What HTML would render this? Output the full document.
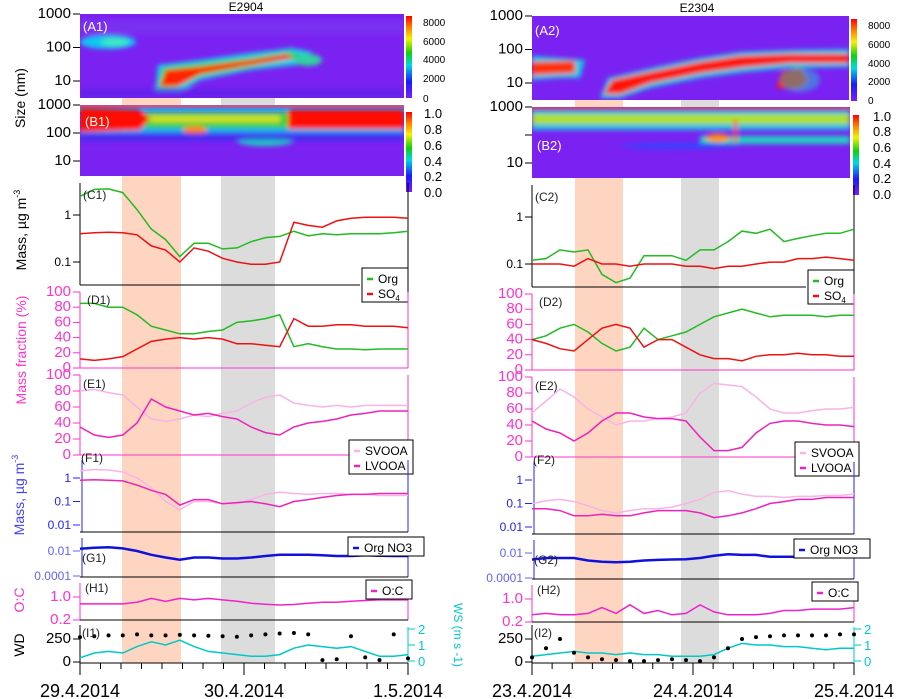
<!DOCTYPE html>
<html><head><meta charset="utf-8"><style>
body{margin:0;background:#fff;width:902px;height:699px;overflow:hidden;font-family:"Liberation Sans",sans-serif}
svg{display:block}
</style></head><body>
<svg id="fig" width="902" height="699" viewBox="0 0 902 699" xmlns="http://www.w3.org/2000/svg" font-family="Liberation Sans, sans-serif">
<defs>
<linearGradient id="cb" x1="0" y1="1" x2="0" y2="0">
<stop offset="0" stop-color="#7a20f5"/><stop offset="0.2" stop-color="#1a1aff"/><stop offset="0.4" stop-color="#00d8e8"/><stop offset="0.55" stop-color="#10d010"/><stop offset="0.72" stop-color="#f8f000"/><stop offset="0.86" stop-color="#ff8000"/><stop offset="1" stop-color="#ff0000"/>
</linearGradient>
<filter id="bl" x="-20%" y="-50%" width="140%" height="200%"><feGaussianBlur stdDeviation="2.5"/></filter>
<clipPath id="cA1"><rect x="80" y="14" width="324" height="84"/></clipPath>
<clipPath id="cB1"><rect x="80" y="105" width="324" height="71"/></clipPath>
<clipPath id="cA2"><rect x="532" y="16" width="317" height="84"/></clipPath>
<clipPath id="cB2"><rect x="532" y="107" width="318" height="71"/></clipPath>
</defs>

<rect x="122" y="98" width="59" height="565" fill="#fdd5c0"/>
<rect x="221" y="98" width="54" height="565" fill="#dcdcdc"/>
<rect x="575" y="100" width="48" height="563" fill="#fdd5c0"/>
<rect x="681" y="100" width="38" height="563" fill="#dcdcdc"/>

<text x="246" y="11" font-size="12" text-anchor="middle">E2904</text>
<text x="697" y="12" font-size="12" text-anchor="middle">E2304</text>

<g>
<rect x="80" y="14" width="324" height="84" fill="#7a22f2"/>
<g clip-path="url(#cA1)" filter="url(#bl)">
<rect x="80" y="20" width="324" height="14" fill="#7a3cf0" opacity="0.5"/>
<ellipse cx="108" cy="42" rx="28" ry="7" fill="#10c8f0"/>
<ellipse cx="115" cy="42" rx="14" ry="4" fill="#40e8c0"/>
<polygon points="155,92 158,65 200,60 250,53 292,48 312,52 305,64 250,70 200,80 180,92" fill="#1ad0e0"/>
<polygon points="158,88 163,68 200,64 250,58 290,52 302,56 250,67 200,76 175,88" fill="#20d020"/>
<polygon points="160,86 166,70 200,67 250,60 287,54 294,58 250,65 200,74 178,86" fill="#ff2000"/>
<ellipse cx="308" cy="60" rx="14" ry="6" fill="#30d0a0"/>
<rect x="80" y="88" width="324" height="10" fill="#5a20e8" opacity="0.6"/>
</g>
<text x="83" y="31" font-size="13" fill="#fff">(A1)</text>
</g>

<g>
<rect x="80" y="105" width="324" height="71" fill="#7a22f2"/>
<g clip-path="url(#cB1)">
<rect x="80" y="105" width="324" height="7" fill="#30a0f0" opacity="0.8"/>
<rect x="80" y="105" width="324" height="3" fill="#ff4060" opacity="0.6"/>
<g filter="url(#bl)">
<rect x="80" y="111" width="324" height="22" fill="#18b0f0"/>
<rect x="145" y="112" width="145" height="16" fill="#40d040"/>
<rect x="150" y="116" width="130" height="6" fill="#d8e020"/>
<polygon points="80,108 140,110 150,118 140,130 80,132" fill="#ff1000"/>
<rect x="288" y="110" width="116" height="19" fill="#ff1000"/>
<ellipse cx="195" cy="130" rx="12" ry="4" fill="#ff8020"/>
<ellipse cx="265" cy="141" rx="28" ry="5" fill="#20d0c0"/>
<rect x="80" y="133" width="324" height="8" fill="#2a30f0" opacity="0.6"/>
</g></g>
<text x="85" y="126" font-size="13" fill="#fff">(B1)</text>
</g>

<g>
<rect x="532" y="16" width="317" height="84" fill="#7a22f2"/>
<g clip-path="url(#cA2)" filter="url(#bl)">
<polygon points="532,56 560,58 585,60 580,78 560,78 532,80" fill="#18c8e0"/>
<polygon points="532,62 575,61 575,73 532,75" fill="#ff3000"/>
<polygon points="600,98 608,78 660,66 700,58 740,52 790,50 849,49 849,67 790,68 745,72 700,78 650,88 620,98" fill="#18c8e0"/>
<polygon points="604,94 612,80 660,70 700,62 740,56 790,54 849,54 849,63 790,63 745,67 700,73 650,83 620,94" fill="#ff1800"/>
<polygon points="776,88 782,72 800,68 808,80 800,88" fill="#ff1000"/>
<ellipse cx="800" cy="80" rx="20" ry="12" fill="#20c8d0" opacity="0.5"/>
</g>
<text x="535" y="35" font-size="13" fill="#fff">(A2)</text>
</g>

<g>
<rect x="532" y="107" width="318" height="71" fill="#7a22f2"/>
<g clip-path="url(#cB2)">
<rect x="532" y="107" width="318" height="4" fill="#ff3050" opacity="0.7"/>
<g filter="url(#bl)">
<rect x="532" y="110" width="318" height="20" fill="#20c0e0"/>
<rect x="532" y="114" width="318" height="10" fill="#b0e020"/>
<rect x="700" y="136" width="150" height="8" fill="#20d0c0"/>
<ellipse cx="718" cy="138" rx="12" ry="4" fill="#ff9000"/>
<rect x="734" y="120" width="3" height="22" fill="#ff2000"/>
<ellipse cx="680" cy="146" rx="60" ry="3" fill="#2050ff" opacity="0.7"/>
</g></g>
<text x="537" y="150" font-size="13" fill="#fff">(B2)</text>
</g>

<g>
<rect x="406" y="16" width="6" height="82" fill="url(#cb)"/>
<g font-size="10" fill="#000"><text x="423" y="26">8000</text><text x="423" y="45">6000</text><text x="423" y="63">4000</text><text x="423" y="82">2000</text><text x="423" y="102">0</text></g>
</g>
<g>
<rect x="406" y="112" width="6" height="80" fill="url(#cb)"/>
<g font-size="13"><text x="424" y="118">1.0</text><text x="424" y="134">0.8</text><text x="424" y="150">0.6</text><text x="424" y="166">0.4</text><text x="424" y="181">0.2</text><text x="424" y="197">0.0</text></g>
</g>
<g>
<rect x="851" y="19" width="6" height="82" fill="url(#cb)"/>
<g font-size="10"><text x="868" y="29">8000</text><text x="868" y="48">6000</text><text x="868" y="67">4000</text><text x="868" y="85">2000</text><text x="868" y="104">0</text></g>
</g>
<g>
<rect x="853" y="115" width="6" height="80" fill="url(#cb)"/>
<g font-size="13"><text x="873" y="121">1.0</text><text x="873" y="136">0.8</text><text x="873" y="152">0.6</text><text x="873" y="168">0.4</text><text x="873" y="183">0.2</text><text x="873" y="199">0.0</text></g>
</g>

<text transform="translate(25,98) rotate(-90)" font-size="14" text-anchor="middle">Size (nm)</text>
<text transform="translate(26,230) rotate(-90)" font-size="14" text-anchor="middle">Mass, µg m<tspan font-size="9" dy="-6">-3</tspan></text>
<text transform="translate(26,350) rotate(-90)" font-size="14" fill="#ff33cc" text-anchor="middle">Mass fraction (%)</text>
<text transform="translate(24,495) rotate(-90)" font-size="14" fill="#4040ff" text-anchor="middle">Mass, µg m<tspan font-size="9" dy="-6">-3</tspan></text>
<text transform="translate(24,600) rotate(-90)" font-size="14" fill="#ff33cc" text-anchor="middle">O:C</text>
<text transform="translate(24,645) rotate(-90)" font-size="14" text-anchor="middle">WD</text>
<text transform="translate(454,635) rotate(90)" font-size="12" fill="#00c8c8" text-anchor="middle">WS (m s -1)</text>

<g id="plots"></g>
</svg>
<script>
const xTickLabelsL = ["29.4.2014","30.4.2014","1.5.2014"];
const xTickLabelsR = ["23.4.2014","24.4.2014","25.4.2014"];
const logTicksC = [1,0.1];
const linTicksD = [100,80,60,40,20,0];
const logTicksF = [1,0.1,0.01];
const logTicksG = [0.01,0.0001];
const ocTicks = [1.0,0.2];
const wdTicks = [250,0];
const wsTicks = [2,1,0];

const orgL = [2.5,3.5,3.6,3.0,1.3,0.5,0.3,0.13,0.25,0.25,0.19,0.2,0.27,0.33,0.35,0.45,0.36,0.4,0.38,0.4,0.4,0.4,0.42,0.45];
const so4L = [0.4,0.42,0.43,0.42,0.38,0.22,0.18,0.1,0.2,0.17,0.12,0.1,0.09,0.09,0.1,0.7,0.6,0.55,0.75,0.85,0.9,0.9,0.9,0.85];
const orgFracL = [85,85,80,80,70,55,50,45,45,48,50,60,62,65,70,28,32,28,25,25,24,25,25,25];
const so4FracL = [12,10,12,15,25,35,38,40,38,40,38,32,32,30,28,65,55,55,57,57,55,55,55,53];
const svooaFracL = [80,82,78,75,60,45,42,45,50,48,52,55,65,72,75,65,62,60,62,60,62,62,62,62];
const lvooaFracL = [35,25,22,25,40,70,60,55,50,52,48,45,35,28,25,35,40,42,45,50,52,55,55,55];
const svooaL = [2,2.3,2.2,1.8,1,0.4,0.1,0.045,0.1,0.1,0.08,0.08,0.12,0.2,0.25,0.22,0.2,0.22,0.22,0.2,0.2,0.18,0.18,0.18];
const lvooaL = [0.8,0.85,0.8,0.75,0.5,0.3,0.2,0.07,0.12,0.12,0.08,0.09,0.1,0.08,0.06,0.1,0.12,0.15,0.18,0.2,0.2,0.22,0.22,0.22];
const orgNO3L = [0.015,0.018,0.02,0.016,0.01,0.005,0.003,0.002,0.003,0.003,0.0025,0.0025,0.003,0.004,0.005,0.005,0.005,0.0045,0.004,0.004,0.0045,0.0042,0.004,0.004];
const ocL = [0.76,0.76,0.76,0.76,0.82,0.95,0.85,0.95,0.9,0.95,0.9,0.85,0.78,0.75,0.72,0.74,0.78,0.82,0.82,0.85,0.88,0.9,0.9,0.9];
const wdL = [270,280,290,290,300,290,290,295,290,285,280,275,290,300,310,315,300,20,30,280,50,20,300,40];
const wsL = [0.2,0.5,0.6,0.5,0.9,1.2,1.0,1.3,0.9,0.6,0.5,0.4,0.3,0.3,0.4,0.8,1.0,0.9,0.8,0.9,0.6,0.3,0.3,0.4];

const orgR = [0.12,0.13,0.2,0.18,0.2,0.06,0.04,0.05,0.15,0.15,0.15,0.12,0.2,0.2,0.3,0.5,0.45,0.55,0.3,0.35,0.4,0.45,0.45,0.55];
const so4R = [0.1,0.1,0.1,0.09,0.13,0.1,0.1,0.09,0.1,0.1,0.1,0.09,0.09,0.08,0.09,0.09,0.1,0.11,0.11,0.13,0.13,0.14,0.13,0.12];
const orgFracR = [40,45,55,60,50,35,25,30,55,40,45,50,60,70,75,80,75,70,72,72,72,70,72,72];
const so4FracR = [40,35,28,25,40,55,60,55,30,40,40,30,20,15,15,12,18,20,20,22,20,20,18,18];
const svooaFracR = [55,70,85,75,60,50,40,45,45,48,50,55,80,92,90,88,75,60,55,55,58,60,60,62];
const lvooaFracR = [45,35,30,20,30,45,55,55,50,48,48,45,25,8,8,12,30,42,45,45,42,40,40,38];
const svooaR = [0.1,0.13,0.15,0.12,0.08,0.05,0.04,0.05,0.06,0.06,0.07,0.1,0.15,0.3,0.35,0.25,0.2,0.2,0.18,0.2,0.2,0.22,0.22,0.25];
const lvooaR = [0.06,0.06,0.05,0.03,0.03,0.035,0.03,0.03,0.04,0.05,0.05,0.05,0.04,0.025,0.03,0.04,0.06,0.1,0.12,0.15,0.15,0.18,0.18,0.18];
const orgNO3R = [0.003,0.004,0.004,0.004,0.0025,0.002,0.0018,0.002,0.0025,0.0028,0.003,0.0032,0.004,0.006,0.008,0.007,0.007,0.005,0.005,0.005,0.005,0.005,0.005,0.005];
const ocR = [0.45,0.5,0.45,0.45,0.5,0.7,0.5,0.8,0.5,0.6,0.45,0.5,0.8,0.55,0.45,0.45,0.45,0.5,0.6,0.6,0.65,0.65,0.65,0.7];
const wdR = [50,150,250,100,50,30,20,10,10,20,30,20,10,50,150,250,270,280,290,290,290,290,300,300];
const wsR = [0.3,0.4,0.5,0.6,0.5,0.5,0.4,0.5,0.4,0.4,0.3,0.3,0.3,0.4,0.8,1.1,1.0,1.0,0.9,0.9,0.8,0.7,0.8,0.8];

const NS="http://www.w3.org/2000/svg";
const root=document.getElementById('plots');
function mk(tag,attrs,parent){const e=document.createElementNS(NS,tag);for(const k in attrs)e.setAttribute(k,attrs[k]);(parent||root).appendChild(e);return e;}
function logY(y1,v1,perDec){return v=>y1-(Math.log10(v)-Math.log10(v1))*perDec;}
function linY(y0,v0,y1,v1){return v=>y0+(v-v0)*(y1-y0)/(v1-v0);}
function xs(x0,x1,n){return i=>x0+i*(x1-x0)/(n-1);}

function line(vals,x0,x1,yf,color,name,w){
  const xf=xs(x0,x1,vals.length);
  const p=mk('polyline',{points:vals.map((v,i)=>xf(i).toFixed(1)+','+yf(v).toFixed(1)).join(' '),fill:'none',stroke:color,'stroke-width':w||1.5});
  
  
}
function dots(vals,x0,x1,yf,color,name){
  const xf=xs(x0,x1,vals.length);
  const g=mk('g',{fill:color});
  
  
  vals.forEach((v,i)=>{mk('circle',{cx:xf(i),cy:yf(v),r:2},g);});
}
function yaxis(x,ticks,yf,color,labels,name,fs,lx){
  const g=mk('g',{});
  
  
  ticks.forEach((t,i)=>{
    mk('line',{x1:x-7,x2:x,y1:yf(t),y2:yf(t),stroke:color},g);
    const tx=mk('text',{x:lx||x-9,y:yf(t)+4,'font-size':fs||12,'text-anchor':'end',fill:color},g);
    tx.textContent=labels[i];
  });
}
function vline(x,y0,y1,c){mk('line',{x1:x,x2:x,y1:y0,y2:y1,stroke:c||'#000'});}
function hline(x0,x1,y,c){mk('line',{x1:x0,x2:x1,y1:y,y2:y,stroke:c||'#000'});}
function label(x,y,t,name){const e=mk('text',{x:x,y:y,'font-size':12,fill:'#222'});e.textContent=t;}
function legend(x,y,w,items,name){
  const g=mk('g',{});
  
  
  mk('rect',{x:x,y:y,width:w,height:items.length*15+4,fill:'#fff',stroke:'#000'},g);
  items.forEach((it,i)=>{
    mk('line',{x1:x+5,x2:x+11,y1:y+11+i*15,y2:y+11+i*15,stroke:it[1],'stroke-width':2.5},g);
    const t=mk('text',{x:x+16,y:y+15+i*15,'font-size':12},g);
    if(it[0]==='SO4'){t.textContent='SO';const s=mk('tspan',{'font-size':8,dy:3},t);s.textContent='4';}
    else t.textContent=it[0];
  });
}

function side(S){
  const x0=S.x0,x1=S.x1,o=S.dy;
  const yA=logY(14+o,1000,33.5), yB=logY(105+o,1000,28);
  yaxis(x0,[1000,100,10],yA,'#000',['1000','100','10'],'y-axis-size-a'+S.k,15);
  yaxis(x0,[1000,100,10],yB,'#000',S.k==='1'?['1000','100','10']:['1000','','10'],'y-axis-size-b'+S.k,15);
  const yC=logY(215+o,1,47);
  vline(x0,183+o,285+o);vline(x1,183+o,285+o);hline(x0,x1-48,285+o);
  yaxis(x0,logTicksC,yC,'#000',['1','0.1'],'y-axis-mass-c'+S.k,12);
  line(S.org,x0,x1,yC,'#22bb22','org-mass-c'+S.k);
  line(S.so4,x0,x1,yC,'#ee1111','so4-mass-c'+S.k);
  label(x0+3,213+o-14,'(C'+S.k+')','panel-label-c'+S.k);
  legend(x1-46,268+o,46,[['Org','#22bb22'],['SO4','#ee1111']],'legend-c'+S.k);
  const yD=linY(368+o,0,292+o,100);
  vline(x0,292+o,368+o,'#ff33cc');vline(x1,292+o,368+o,'#ff33cc');hline(x0,x1,368+o,'#ff33cc');
  yaxis(x0,linTicksD,yD,'#ff33cc',linTicksD.map(String),'y-axis-fraction-d'+S.k,15);
  line(S.orgF,x0,x1,yD,'#22bb22','org-fraction-d'+S.k);
  line(S.so4F,x0,x1,yD,'#ee1111','so4-fraction-d'+S.k);
  label(x0+7,318+o-14,'(D'+S.k+')','panel-label-d'+S.k);
  const yE=linY(455+o,0,375+o,100);
  vline(x0,375+o,455+o,'#ff33cc');vline(x1,375+o,455+o,'#ff33cc');hline(x0,x1,455+o,'#ff33cc');
  yaxis(x0,linTicksD,yE,'#ff33cc',linTicksD.map(String),'y-axis-fraction-e'+S.k,15);
  line(S.svF,x0,x1,yE,'#f9b3e6','svooa-fraction-e'+S.k);
  line(S.lvF,x0,x1,yE,'#ee22bb','lvooa-fraction-e'+S.k);
  label(x0+3,400+o-12,'(E'+S.k+')','panel-label-e'+S.k);
  legend(x1-59,440+o,64,[['SVOOA','#f9b3e6'],['LVOOA','#ee22bb']],'legend-e'+S.k);
  const yF=logY(478+o,1,23.5);
  vline(x0+2,460+o,532+o,'#2222ff');vline(x1,460+o,532+o,'#2222ff');hline(x0,x1,532+o);
  yaxis(x0,logTicksF,yF,'#2222ff',['1','0.1','0.01'],'y-axis-mass-f'+S.k,12);
  line(S.sv,x0,x1,yF,'#f9b3e6','svooa-mass-f'+S.k);
  line(S.lv,x0,x1,yF,'#ee22bb','lvooa-mass-f'+S.k);
  label(x0+1,474+o-12,'(F'+S.k+')','panel-label-f'+S.k);
  const yG=logY(551+o,0.01,12.5);
  vline(x0+2,538+o,577+o,'#2222ff');vline(x1,540+o,577+o,'#2222ff');hline(x0,x1,577+o);
  yaxis(x0,logTicksG,yG,'#6060ff',['0.01','0.0001'],'y-axis-orgno3-g'+S.k,12);
  line(S.no3,x0,x1,yG,'#1111dd','org-no3-g'+S.k,2.5);
  label(x0+2,562+o,'(G'+S.k+')','panel-label-g'+S.k);
  legend(x1-60,537+o,76,[['Org NO3','#1111dd']],'legend-g'+S.k);
  const yH=linY(597+o,1.0,620+o,0.2);
  vline(x0,583+o,620+o,'#ff33cc');vline(x1,583+o,620+o,'#ff33cc');hline(x0,x1,620+o);
  yaxis(x0,ocTicks,yH,'#ff33cc',['1.0','0.2'],'y-axis-oc-h'+S.k,15);
  line(S.oc,x0,x1,yH,'#ee22cc','oc-h'+S.k);
  label(x0+5,594+o-2,'(H'+S.k+')','panel-label-h'+S.k);
  legend(x1-42,580+o,46,[['O:C','#ee22cc']],'legend-h'+S.k);
  const yW=linY(662,0,639,250), yS=linY(661,0,629,2);
  vline(x0,625,663);hline(x0,x1,663);
  mk('line',{x1:x1,x2:x1,y1:627,y2:663,stroke:'#00c8c8'});
  yaxis(x0,wdTicks,yW,'#000',['250','0'],'y-axis-wd-i'+S.k,15);
  const g=mk('g',{});
  wsTicks.forEach(t=>{mk('line',{x1:x1,x2:x1+7,y1:yS(t),y2:yS(t),stroke:'#00c8c8'},g);const tx=mk('text',{x:x1+10,y:yS(t)+5,'font-size':13,fill:'#00c8c8'},g);tx.textContent=String(t);});
  line(S.ws,x0,x1,yS,'#00c8c8','ws-line-i'+S.k);
  dots(S.wd,x0,x1,yW,'#000','wd-points-i'+S.k);
  label(x0+2,637,'(I'+S.k+')','panel-label-i'+S.k);
  const xt=mk('g',{});
  for(let i=0;i<=16;i++){const x=x0+i*(x1-x0)/16;mk('line',{x1:x,x2:x,y1:663,y2:i%8===0?675:669,stroke:'#000'},xt);}
  S.xl.forEach((t,i)=>{const x=x0+i*(x1-x0)/2;const tx=mk('text',{x:x,y:697,'font-size':18,'text-anchor':'middle'},xt);tx.textContent=t;});
}
side({k:'1',x0:80,x1:408,dy:0,xl:xTickLabelsL,org:orgL,so4:so4L,orgF:orgFracL,so4F:so4FracL,svF:svooaFracL,lvF:lvooaFracL,sv:svooaL,lv:lvooaL,no3:orgNO3L,oc:ocL,wd:wdL,ws:wsL});
side({k:'2',x0:532,x1:854,dy:2,xl:xTickLabelsR,org:orgR,so4:so4R,orgF:orgFracR,so4F:so4FracR,svF:svooaFracR,lvF:lvooaFracR,sv:svooaR,lv:lvooaR,no3:orgNO3R,oc:ocR,wd:wdR,ws:wsR});
</script>
</body></html>
